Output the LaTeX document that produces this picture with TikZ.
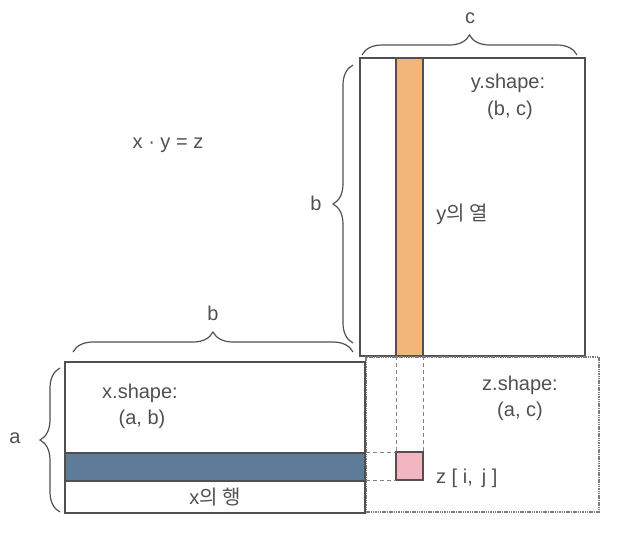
\documentclass[tikz,border=0pt]{standalone}
\usepackage{fontspec}
\setmainfont{Liberation Sans}
\newfontfamily\krfont{Noto Sans CJK KR}
\usetikzlibrary{decorations.pathreplacing}
\definecolor{ink}{HTML}{505050}
\definecolor{orangecol}{HTML}{F1B77A}
\definecolor{bluerow}{HTML}{5E7C9A}
\definecolor{pinkcell}{HTML}{F2B6C1}
\tikzset{
  mat/.style={draw=ink, line width=1.3pt, fill=white, inner sep=0pt, outer sep=0pt, anchor=north west},
  zmat/.style={draw=ink!75, line width=1.2pt, dash pattern=on 1.5pt off 0.8pt, inner sep=0pt, outer sep=0pt, anchor=north west},
  band/.style={draw=ink, line width=1.1pt, inner sep=0pt, outer sep=0pt, anchor=north west},
  dimbrace/.style={draw=ink, line width=1.2pt, decorate, decoration={brace, amplitude=20pt}},
  guide/.style={draw=ink!70, line width=0.9pt, dash pattern=on 4pt off 3pt},
  lbl/.style={text=ink, font=\fontsize{20}{23}\selectfont, inner sep=0pt, align=center},
}
\begin{document}
\begin{tikzpicture}[x=1pt, y=-1pt]
\useasboundingbox (0,0) rectangle (634,542);
% matrices
\node[mat, minimum width=225pt, minimum height=298pt] (ymat) at (360,58) {};
\node[band, fill=orangecol, minimum width=27pt, minimum height=298pt] (ycol) at (396,58) {};
\node[zmat, minimum width=233pt, minimum height=155pt] (zmat) at (366,357) {};
\node[mat, minimum width=300pt, minimum height=151pt] (xmat) at (65,362) {};
\node[band, fill=bluerow, minimum width=300pt, minimum height=28pt] (xrow) at (65,453) {};
\node[band, fill=pinkcell, minimum width=27pt, minimum height=28pt] (zcell) at (396,452) {};
% guides
\draw[guide] (ycol.south west) -- (zcell.north west);
\draw[guide] (ycol.south east) -- (zcell.north east);
\draw[guide] (zmat.west |- zcell.north west) -- (zcell.north west);
\draw[guide] (zmat.west |- zcell.south west) -- (zcell.south west);
% braces
\coordinate (bx1) at (73,352); \coordinate (bx2) at (353,352);
\coordinate (ax1) at (60,512); \coordinate (ax2) at (60,368);
\coordinate (by1) at (353,343); \coordinate (by2) at (353,65);
\coordinate (cy1) at (362,55); \coordinate (cy2) at (577,55);
\draw[dimbrace] (bx1) -- (bx2);
\draw[dimbrace] (ax1) -- (ax2);
\draw[dimbrace] (by1) -- (by2);
\draw[dimbrace] (cy1) -- (cy2);
\node[lbl] (lb1) at (213,313) {b};
\node[lbl] (la) at (15,438) {a};
\node[lbl] (lb2) at (316,203) {b};
\node[lbl] (lc) at (470,18) {c};
% texts
\node[lbl] (eq) at (168,145) {x · y = z};
\node[lbl] (ysh) at (508,83) {y.shape:};
\node[lbl] (ybc) at (510,110) {(b, c)};
\node[lbl] (ycoltxt) at (462,214) {y{\krfont 의 열}};
\node[lbl] (xsh) at (140,393) {x.shape:};
\node[lbl] (xab) at (142,419) {(a, b)};
\node[lbl] (xrowtxt) at (215,497) {x{\krfont 의 행}};
\node[lbl] (zsh) at (520,385) {z.shape:};
\node[lbl] (zac) at (520,411) {(a, c)};
\node[lbl, anchor=west] (zij) at (436,478) {z [ i,\, j ]};
\end{tikzpicture}
\end{document}
